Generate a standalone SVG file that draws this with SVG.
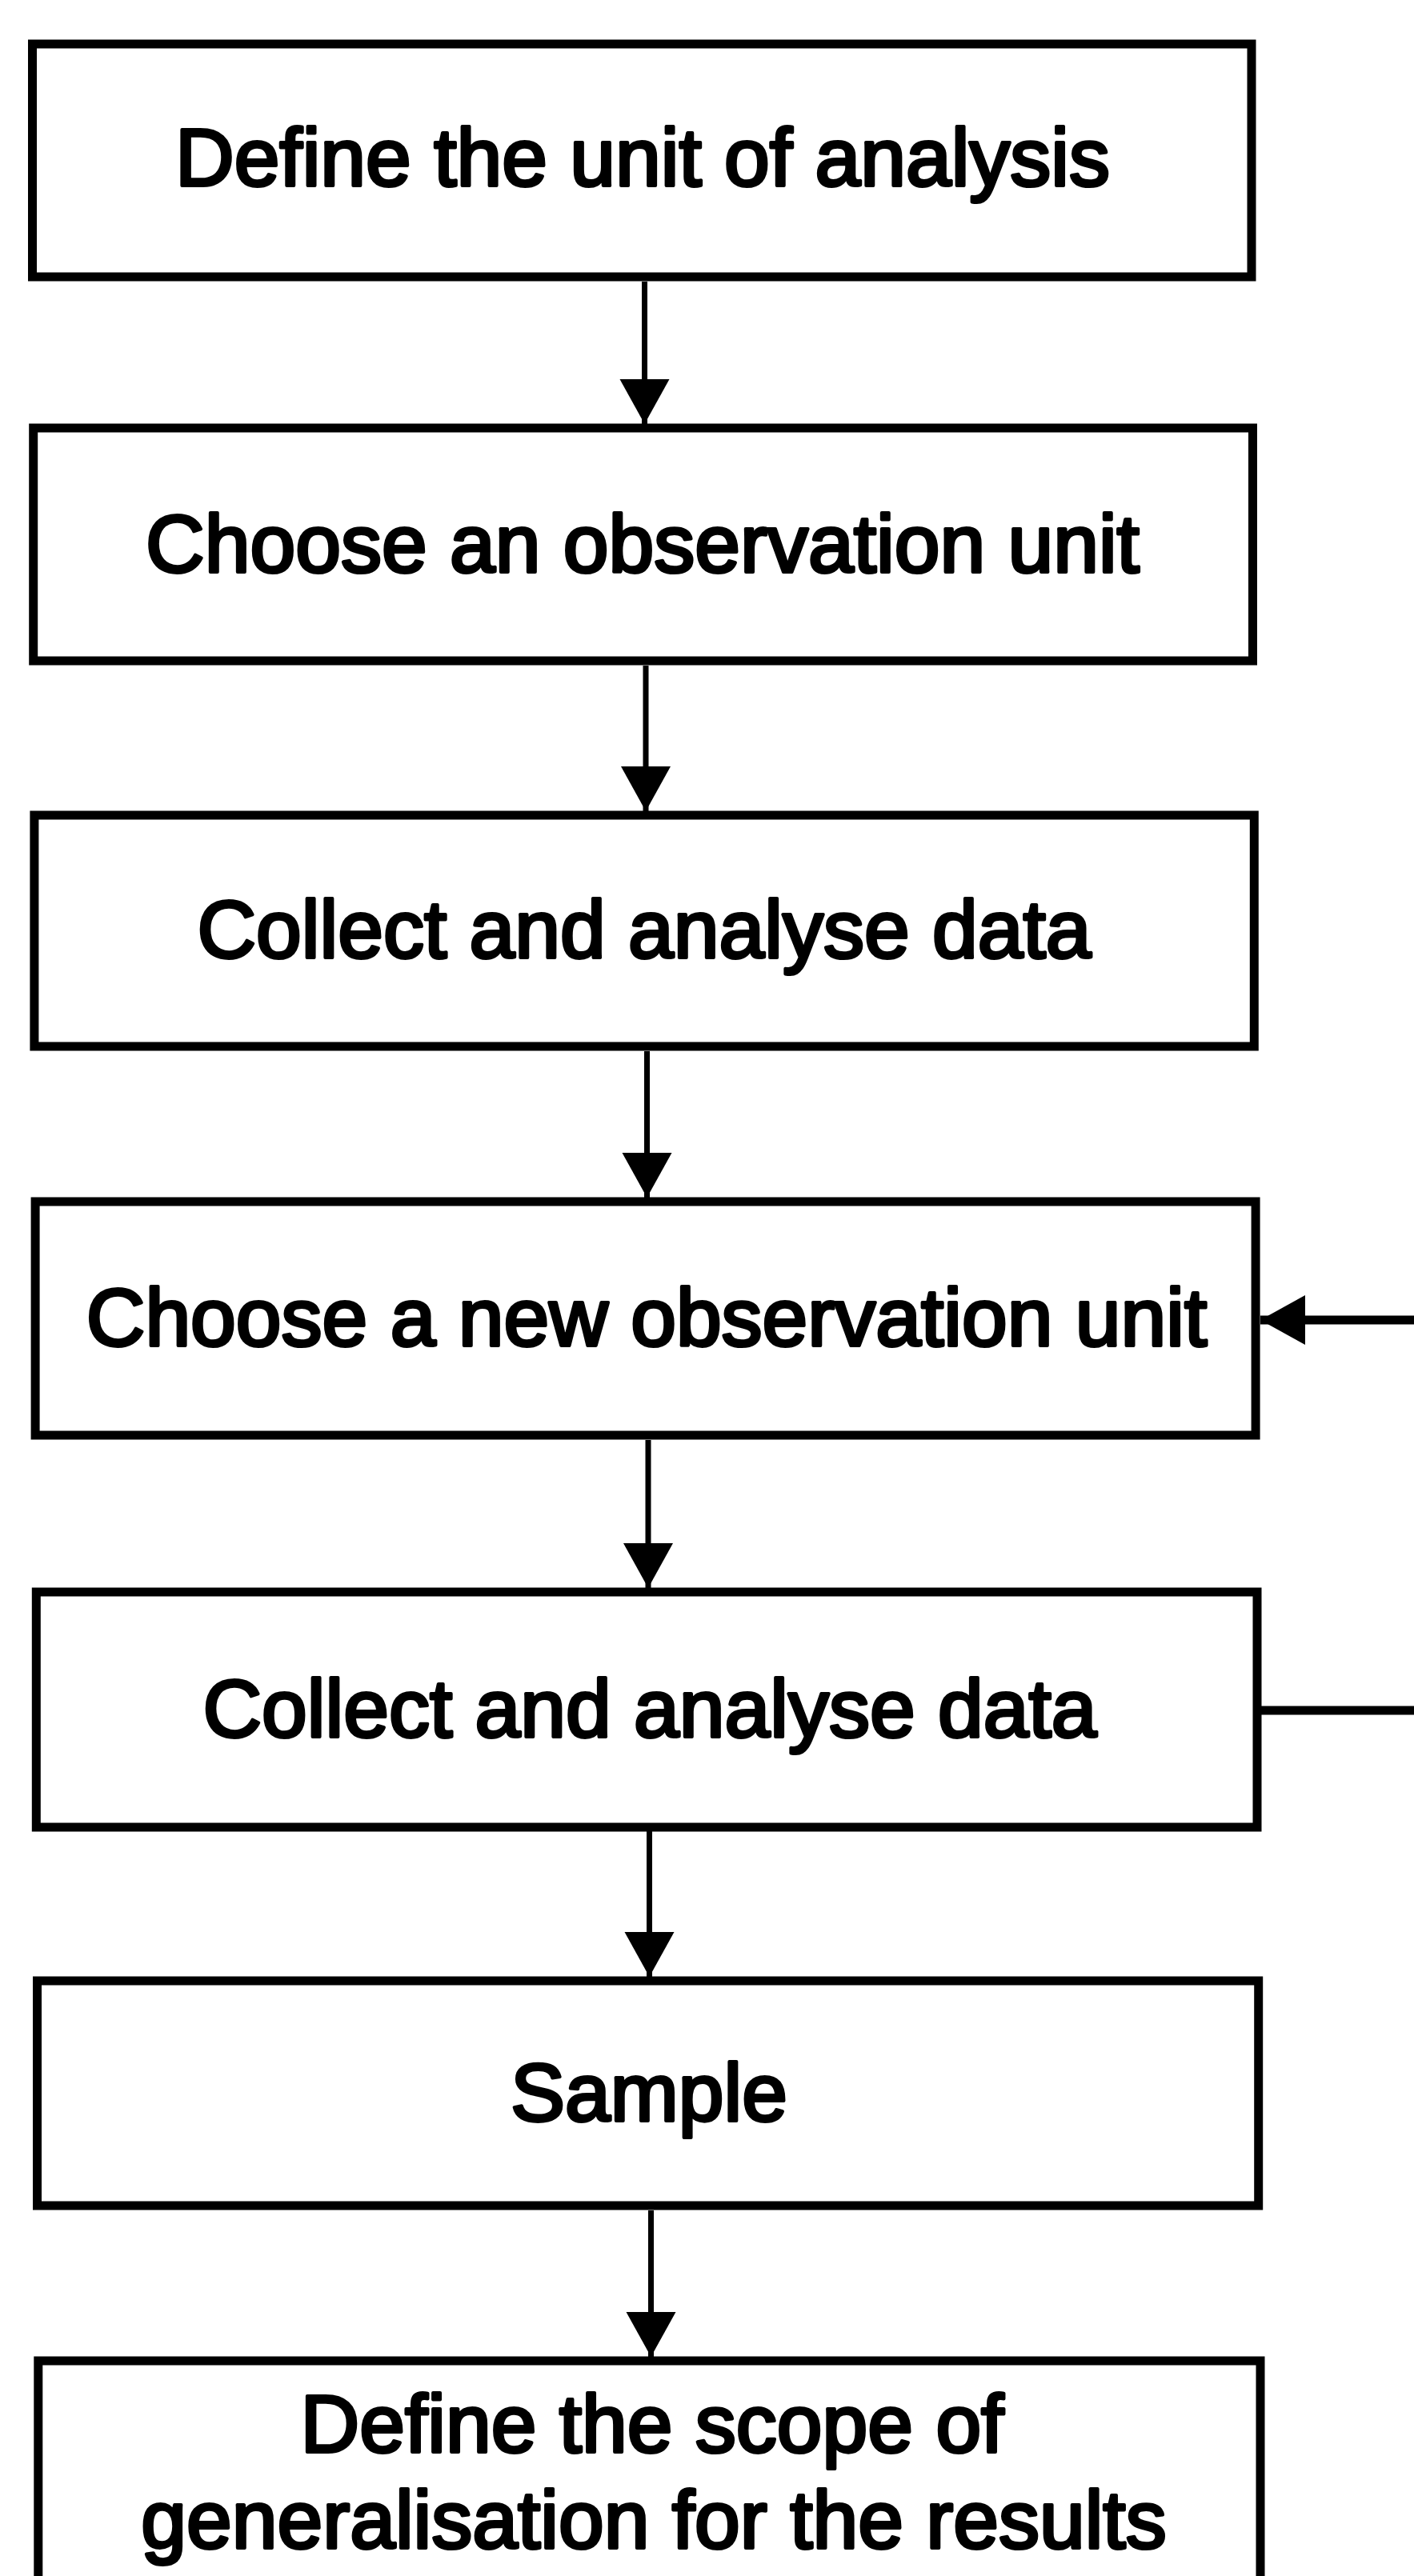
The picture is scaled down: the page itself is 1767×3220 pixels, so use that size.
<svg xmlns="http://www.w3.org/2000/svg" width="1767" height="3220" viewBox="0 0 1767 3220">
  <style>
    .box { fill: #ffffff; stroke: #000000; stroke-width: 11; }
    .label { font-family: "Liberation Sans", Arial, Helvetica, sans-serif; font-size: 102px; fill: #000000; stroke: #000000; stroke-width: 4; stroke-linejoin: round; text-anchor: middle; }
    .edge { fill: none; stroke: #000000; stroke-width: 7; }
    .loop { fill: none; stroke: #000000; stroke-width: 11; }
  </style>
  <defs>
    <marker id="arrow" markerUnits="userSpaceOnUse" markerWidth="58" markerHeight="64" refX="56" refY="31" orient="auto">
      <path d="M0,0 L56,31 L0,62 Z" fill="#000000"/>
    </marker>
  </defs>
  <rect width="1767" height="3220" fill="#ffffff"/>

  <g id="connectors">
    <line class="edge" x1="805.5" y1="352" x2="805.5" y2="530" marker-end="url(#arrow)"/>
    <line class="edge" x1="807" y1="832" x2="807" y2="1014" marker-end="url(#arrow)"/>
    <line class="edge" x1="808.5" y1="1314" x2="808.5" y2="1497" marker-end="url(#arrow)"/>
    <line class="edge" x1="810" y1="1800" x2="810" y2="1985" marker-end="url(#arrow)"/>
    <line class="edge" x1="811.5" y1="2289" x2="811.5" y2="2471" marker-end="url(#arrow)"/>
    <line class="edge" x1="813.5" y1="2763" x2="813.5" y2="2946" marker-end="url(#arrow)"/>
    <!-- feedback loop: leaves the second data box to the right, returns into the new-unit box -->
    <line class="loop" x1="1576" y1="2138" x2="1767" y2="2138"/>
    <line class="loop" x1="1767" y1="1650" x2="1575" y2="1650" marker-end="url(#arrow)"/>
  </g>

  <g id="define-unit">
    <rect class="box" x="40.5" y="55" width="1523.5" height="291"/>
    <text class="label" x="803" y="232">Define the unit of analysis</text>
  </g>

  <g id="choose-unit">
    <rect class="box" x="41.7" y="535" width="1523.8" height="291"/>
    <text class="label" x="803" y="715">Choose an observation unit</text>
  </g>

  <g id="collect-1">
    <rect class="box" x="42.9" y="1019" width="1524.4" height="289"/>
    <text class="label" x="805" y="1197">Collect and analyse data</text>
  </g>

  <g id="choose-new-unit">
    <rect class="box" x="44.1" y="1502" width="1525" height="292"/>
    <text class="label" x="808" y="1682">Choose a new observation unit</text>
  </g>

  <g id="collect-2">
    <rect class="box" x="45.3" y="1990" width="1525.7" height="294"/>
    <text class="label" x="812" y="2171">Collect and analyse data</text>
  </g>

  <g id="sample">
    <rect class="box" x="46.5" y="2476" width="1526.2" height="281"/>
    <text class="label" x="811" y="2651">Sample</text>
  </g>

  <g id="define-scope">
    <rect class="box" x="47.8" y="2951" width="1527.2" height="300"/>
    <text class="label" x="815" y="3065">Define the scope of</text>
    <text class="label" x="817" y="3185">generalisation for the results</text>
  </g>
</svg>
